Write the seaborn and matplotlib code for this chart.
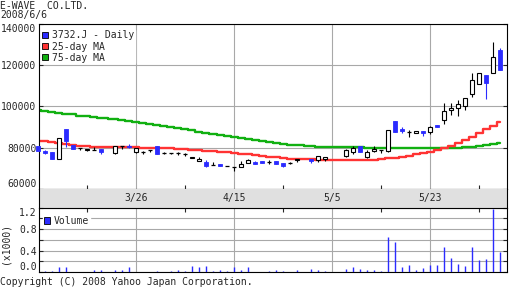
import numpy as np
import pandas as pd
import matplotlib
matplotlib.use("Agg")
import matplotlib.pyplot as plt
from matplotlib.patches import Patch
from matplotlib.transforms import blended_transform_factory
import seaborn as sns

# ---------------- data ----------------
company = "E-WAVE  CO.LTD."
as_of = "2008/6/6"
series_label = "3732.J - Daily"
ma25_label = "25-day MA"
ma75_label = "75-day MA"
volume_label = "Volume"
volume_unit = "(x1000)"
copyright_text = "Copyright (C) 2008 Yahoo Japan Corporation."

dates = [
    "2008-03-06", "2008-03-07", "2008-03-10", "2008-03-11", "2008-03-12", "2008-03-13", "2008-03-14",
    "2008-03-17", "2008-03-18", "2008-03-19", "2008-03-21", "2008-03-24", "2008-03-25", "2008-03-26",
    "2008-03-27", "2008-03-28", "2008-03-31",
    "2008-04-01", "2008-04-02", "2008-04-03", "2008-04-04", "2008-04-07", "2008-04-08", "2008-04-09",
    "2008-04-10", "2008-04-11", "2008-04-14", "2008-04-15", "2008-04-16", "2008-04-17", "2008-04-18",
    "2008-04-21", "2008-04-22", "2008-04-23", "2008-04-24", "2008-04-25", "2008-04-28", "2008-04-30",
    "2008-05-01", "2008-05-02", "2008-05-07", "2008-05-08", "2008-05-09", "2008-05-12", "2008-05-13",
    "2008-05-14", "2008-05-15", "2008-05-16", "2008-05-19", "2008-05-20", "2008-05-21", "2008-05-22",
    "2008-05-23", "2008-05-26", "2008-05-27", "2008-05-28", "2008-05-29", "2008-05-30",
    "2008-06-02", "2008-06-03", "2008-06-04", "2008-06-05", "2008-06-06",
]

open_ = [80900, 78300, 78000, 74800, 89300, 81300, 80000, 79000, 79000, 79600,
         77700, 80800, 81100, 77900, 78200, 79000, 80900,
         77700, 77700, 77400, 77000, 75000, 73500, 73200, 71600, 72200, 71300,
         70800, 70600, 72600, 73300, 73500, 73300, 73800, 72700, 72900, 73900,
         74500, 74000, 74800,
         76200, 78200, 80900, 75600, 78700, 78800, 78700, 93000, 89300, 87500, 87100, 88200,
         87500, 91100, 93300, 98500, 99100, 100100,
         105900, 110700, 115200, 116000, 127300]
high = [80900, 79000, 78000, 84800, 89300, 81300, 80000, 79600, 80600, 79600,
        80900, 80800, 81700, 80000, 78600, 79000, 80900,
        77900, 77700, 77900, 77500, 75600, 75600, 74000, 73000, 72200, 71300,
        70800, 73800, 74500, 73800, 73500, 74100, 73800, 72700, 73300, 74600,
        74500, 75900, 75600,
        79600, 80900, 80900, 79000, 80900, 78800, 88700, 93000, 89900, 88600, 88000, 88200,
        90600, 91100, 101400, 101600, 103100, 104000,
        116000, 116000, 115200, 131200, 128300]
low = [78500, 77200, 74800, 74800, 80600, 79600, 78900, 78600, 79000, 77200,
       77200, 79300, 79800, 77500, 77200, 78200, 77200,
       77000, 77000, 76600, 76200, 75000, 73500, 70900, 71600, 71100, 71300,
       68800, 70600, 72600, 72400, 72900, 72400, 72400, 70800, 72200, 73300,
       72700, 73300, 73700,
       75600, 77100, 77900, 75300, 78200, 77700, 77900, 87800, 87300, 85400, 87100, 85900,
       86900, 90100, 91700, 95900, 95600, 98300,
       104700, 110700, 103800, 116000, 117800]
close = [78500, 77700, 74800, 84800, 83500, 79600, 80000, 79500, 79000, 77900,
         80900, 80800, 80300, 80000, 78200, 79000, 77200,
         77700, 77700, 77400, 77000, 75600, 74800, 71400, 71600, 71100, 71300,
         70800, 72200, 74200, 72400, 72900, 73300, 72400, 71400, 72900, 74600,
         73700, 75900, 75600,
         79000, 80100, 77900, 78000, 79600, 78800, 88700, 87800, 88200, 87500, 88000, 87200,
         90100, 90100, 98000, 99300, 101100, 104000,
         112700, 116000, 111500, 123800, 117800]
ma25 = [83500, 83200, 82600, 82300, 82000, 81300, 81000, 80700, 80600, 80500,
        80400, 80300, 80300, 80200, 80100, 80000, 80000,
        79800, 79700, 79400, 79300, 79100, 78800, 78600, 78500, 78000, 77800,
        77300, 77200, 77000, 76400, 76200, 75700, 75500, 75300, 74800, 74600,
        74500, 74100, 74000,
        74000, 74200, 74200, 74300, 74300, 74400, 75000, 75300, 75800, 76200, 76800, 77400,
        78200, 79100, 80000, 81100, 82300, 83700,
        85300, 87000, 88900, 90600, 92600]
ma75 = [98300, 98000, 97400, 97000, 96500, 96100, 95600, 95200, 94800, 94400,
        93800, 93300, 93000, 92600, 92200, 91600, 91000,
        90500, 90000, 89400, 89000, 88400, 87800, 87400, 86900, 86400, 85800,
        85200, 84800, 84200, 83600, 83200, 82800, 82400, 81900, 81500, 81300,
        80900, 80600, 80500,
        80400, 80300, 80200, 80100, 80000, 79800, 79800, 79800, 79800, 79800, 79800, 79800,
        79800, 79900, 79900, 79900, 80000, 80200,
        80600, 80700, 81200, 81700, 82300]
volume = [10, 25, 25, 85, 85, 5, 5, 5, 30, 35,
          30, 30, 85, 5, 5, 5, 20,
          5, 20, 40, 20, 105, 85, 120, 20, 30, 20,
          85, 35, 85, 5, 5, 25, 30, 20, 5, 40,
          50, 30, 20,
          50, 90, 50, 40, 40, 20, 650, 560, 90, 125, 40, 70,
          125, 125, 460, 260, 145, 105,
          460, 220, 240, 1170, 380]

tick_dates = ["2008-03-26", "2008-04-15", "2008-05-05", "2008-05-23"]
tick_labels = ["3/26", "4/15", "5/5", "5/23"]
minor_tick_dates = ["2008-03-17", "2008-04-04", "2008-04-24", "2008-05-14", "2008-06-03"]
price_ticks = [60000, 80000, 100000, 120000, 140000]
volume_ticks = [0.0, 0.4, 0.8, 1.2]
volume_minor_ticks = [0.2, 0.6, 1.0]

# ---------------- style ----------------
BLUE = "#2b2bff"
RED = "#ff3333"
GREEN = "#11b011"
GRID = "#a8a8a8"
STRIP = "#e0e0e0"

sns.set_style("white")
plt.rcParams["font.family"] = ["DejaVu Sans Mono"]
plt.rcParams["font.size"] = 7
plt.rcParams["axes.linewidth"] = 0.8

W, H = 512, 288
fig = plt.figure(figsize=(W / 100, H / 100), dpi=100)
fig.patch.set_facecolor("white")


def px_axes(left, top, right, bottom):
    return fig.add_axes([left / W, 1 - bottom / H, (right - left) / W, (bottom - top) / H])


L_, R_ = 39.3, 506.7
ax = px_axes(L_, 23.5, R_, 189.3)
ax_s = px_axes(L_, 189.3, R_, 207.7)
ax_v = px_axes(L_, 207.7, R_, 272.0)

start = np.datetime64(dates[0], "D")
pos = np.busday_count(start, np.array(dates, dtype="datetime64[D]"))
tick_pos = np.busday_count(start, np.array(tick_dates, dtype="datetime64[D]"))
minor_pos = np.busday_count(start, np.array(minor_tick_dates, dtype="datetime64[D]"))

df = pd.DataFrame({"pos": pos, "open": open_, "high": high, "low": low, "close": close,
                   "ma25": ma25, "ma75": ma75, "volume": volume})

XL = (0.19, 66.95)
for a in (ax, ax_s, ax_v):
    a.set_xlim(*XL)
    a.set_facecolor("white")
    for s in a.spines.values():
        s.set_color("black")
        s.set_linewidth(0.8)

# ---------------- main price panel ----------------
ax.set_ylim(60000, 140000)
ax.set_yticks(price_ticks)
ylabs = ax.set_yticklabels([str(v) for v in price_ticks])
ylabs[0].set_va("bottom")
ylabs[-1].set_va("top")
ax.set_xticks(tick_pos)
ax.set_xticklabels([])
ax.set_xticks(minor_pos, minor=True)
ax.grid(True, which="major", color=GRID, linewidth=0.8, zorder=0)
ax.set_axisbelow(True)
ax.tick_params(axis="y", direction="in", length=3, left=True, right=True, labelsize=7, pad=2,
               width=0.8)
ax.tick_params(axis="x", which="major", length=0)
ax.tick_params(axis="x", which="minor", direction="in", length=3, bottom=True, width=0.8)

sns.lineplot(data=df, x="pos", y="ma75", ax=ax, color=GREEN, linewidth=1.7,
             drawstyle="steps-mid", legend=False, zorder=2)
sns.lineplot(data=df, x="pos", y="ma25", ax=ax, color=RED, linewidth=1.7,
             drawstyle="steps-mid", legend=False, zorder=2)
ax.set_xlabel("")
ax.set_ylabel("")

up = df["close"] > df["open"]
down = df["close"] < df["open"]
doji = df["close"] == df["open"]
bw = 0.55

wick_colors = [BLUE if d else "black" for d in down]
ax.vlines(df["pos"], df["low"], df["high"], colors=wick_colors, linewidth=0.8, zorder=3)
ax.bar(df["pos"][down], (df["open"] - df["close"])[down], bottom=df["close"][down], width=bw,
       color=BLUE, edgecolor=BLUE, linewidth=0.6, zorder=4, clip_on=False)
ax.bar(df["pos"][up], (df["close"] - df["open"])[up], bottom=df["open"][up], width=bw,
       facecolor="white", edgecolor="black", linewidth=0.8, zorder=4, clip_on=False)
ax.hlines(df["close"][doji], df["pos"][doji] - bw / 2 - 0.05, df["pos"][doji] + bw / 2 + 0.05,
          colors="black", linewidth=0.9, zorder=4)

handles = [Patch(facecolor=BLUE, edgecolor="black", linewidth=0.6),
           Patch(facecolor=RED, edgecolor="black", linewidth=0.6),
           Patch(facecolor=GREEN, edgecolor="black", linewidth=0.6)]
leg = ax.legend(handles, [series_label, ma25_label, ma75_label], loc="upper left",
                bbox_to_anchor=(42 / W, 1 - 30 / H), bbox_transform=fig.transFigure,
                frameon=True, facecolor="white", edgecolor="white", framealpha=1, fancybox=False,
                fontsize=7, handlelength=0.6, handleheight=0.6, handletextpad=0.4,
                labelspacing=0.12, borderpad=0.05, borderaxespad=0)
leg.set_zorder(6)

# ---------------- date strip ----------------
ax_s.set_facecolor(STRIP)
ax_s.set_ylim(0, 1)
ax_s.set_xticks([])
ax_s.set_yticks([])
ax_s.spines["top"].set_visible(False)
ax_s.spines["bottom"].set_visible(False)
tr = blended_transform_factory(ax_s.transData, ax_s.transAxes)
for p, lab in zip(tick_pos, tick_labels):
    ax_s.text(p, 0.55, lab, transform=tr, ha="center", va="center", fontsize=7)

# ---------------- volume panel ----------------
ax_v.vlines(df["pos"], 0, df["volume"] / 1000.0, colors=BLUE, linewidth=1.0, zorder=3)
ax_v.set_ylim(0, 1.2)
ax_v.set_yticks(volume_ticks)
vlabs = ax_v.set_yticklabels([f"{v:.1f}" for v in volume_ticks])
vlabs[0].set_va("bottom")
vlabs[-1].set_va("top")
ax_v.set_yticks(volume_minor_ticks, minor=True)
ax_v.set_xticks(tick_pos)
ax_v.set_xticklabels([])
ax_v.set_xticks(minor_pos, minor=True)
ax_v.grid(True, which="major", color=GRID, linewidth=0.8, zorder=0)
ax_v.grid(True, which="minor", axis="y", color=GRID, linewidth=0.8, zorder=0)
ax_v.set_axisbelow(True)
ax_v.tick_params(axis="y", which="both", direction="in", length=3, left=True, right=True,
                 labelsize=7, pad=2, width=0.8)
ax_v.tick_params(axis="x", which="major", length=0)
ax_v.tick_params(axis="x", which="minor", direction="in", length=3, top=True, bottom=False,
                 width=0.8)

vleg = ax_v.legend([Patch(facecolor=BLUE, edgecolor="black", linewidth=0.6)], [volume_label],
                   loc="upper left", bbox_to_anchor=(43 / W, 1 - 215 / H),
                   bbox_transform=fig.transFigure, frameon=True, facecolor="white",
                   edgecolor="white", framealpha=1, fancybox=False, fontsize=7,
                   handlelength=0.6, handleheight=0.6, handletextpad=0.4, borderpad=0.1,
                   borderaxespad=0)
vleg.set_zorder(6)

# ---------------- texts ----------------
fig.text(0.5 / W, 1 - 1 / H, company, ha="left", va="top", fontsize=7)
fig.text(0.5 / W, 1 - 10 / H, as_of, ha="left", va="top", fontsize=7)
fig.text(6 / W, 1 - 243 / H, volume_unit, rotation=90, ha="center", va="center", fontsize=7)
fig.text(0.5 / W, 1 - 277 / H, copyright_text, ha="left", va="top", fontsize=7)

fig.savefig("out.png", dpi=100, facecolor="white")
